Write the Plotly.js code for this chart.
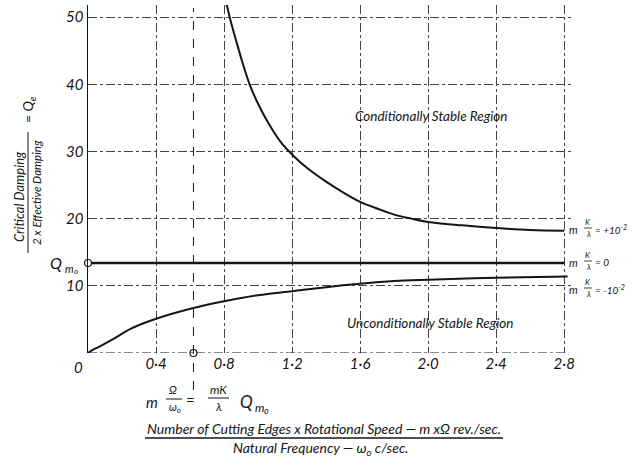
<!DOCTYPE html>
<html><head><meta charset="utf-8">
<script src="https://cdn.plot.ly/plotly-3.0.1.min.js"></script>
<style>html,body{margin:0;padding:0;background:#fff}#chart{width:632px;height:460px}</style>
</head><body><div id="chart"></div>
<script>
// ---- data ----
const xTickVals = [0.4, 0.8, 1.2, 1.6, 2.0, 2.4, 2.8];
const xTickText = ['0·4', '0·8', '1·2', '1·6', '2·0', '2·4', '2·8'];
const yTickVals = [10, 20, 30, 40, 50];
const yTickText = ['10', '20', '30', '40', '50'];

// m K/lambda = +10^-2 (conditionally stable boundary)
const upperX = [0.81, 0.84, 0.87, 0.91, 0.95, 1.0, 1.05, 1.13, 1.21, 1.3, 1.4, 1.5, 1.6, 1.7, 1.8, 1.9, 2.0, 2.2, 2.4, 2.6, 2.8];
const upperY = [52.5, 49.3, 46.6, 43.1, 40.0, 37.1, 34.7, 31.5, 29.3, 27.3, 25.5, 23.9, 22.5, 21.5, 20.6, 20.0, 19.5, 19.0, 18.6, 18.3, 18.2];
// m K/lambda = -10^-2
const lowerX = [0, 0.03, 0.07, 0.15, 0.25, 0.4, 0.62, 0.8, 1.0, 1.2, 1.4, 1.6, 1.8, 2.0, 2.4, 2.82];
const lowerY = [0, 0.5, 1.0, 2.1, 3.6, 5.1, 6.7, 7.7, 8.6, 9.2, 9.8, 10.3, 10.7, 10.9, 11.2, 11.4];
// m K/lambda = 0
const qm0 = 13.4;
const zeroLineX = [0, 2.8];
const omegaCrit = 0.62;
const xEnd = 2.8;

const regionLabels = ['Conditionally Stable Region', 'Unconditionally Stable Region'];
const curveLabelTexts = ['= +10<sup>-2</sup>', '= 0', '= -10<sup>-2</sup>'];

// ---- layout helpers (pixel -> paper) ----
const L = 88, R = 571, T = 5, B = 353;
const W = R - L, H = B - T;
const px = p => (p - L) / W;
const py = p => (B - p) / H;
const FONT = 'Lato, "Open Sans", sans-serif';
const INK = '#151515';

function ann(text, x, y, size, extra) {
  return Object.assign({
    text: text, xref: 'paper', yref: 'paper', x: px(x), y: py(y),
    showarrow: false, xanchor: 'center', yanchor: 'middle',
    font: {family: FONT, size: size, color: INK, style: 'italic'}
  }, extra || {});
}
function bar(x0, y0, x1, y1, w) {
  return {type: 'line', xref: 'paper', yref: 'paper', x0: px(x0), x1: px(x1), y0: py(y0), y1: py(y1),
          line: {color: INK, width: w || 1}};
}

const traces = [
  {x: upperX, y: upperY, mode: 'lines', line: {color: INK, width: 2, shape: 'spline'}, hoverinfo: 'skip'},
  {x: lowerX, y: lowerY, mode: 'lines', line: {color: INK, width: 2, shape: 'spline'}, hoverinfo: 'skip'},
  {x: zeroLineX, y: zeroLineX.map(() => qm0), mode: 'lines', line: {color: INK, width: 2.5}, hoverinfo: 'skip'},
  {x: [0, omegaCrit], y: [qm0, 0], mode: 'markers', cliponaxis: false,
   marker: {symbol: 'circle', size: 7, color: '#fff', line: {color: INK, width: 1.2}}, hoverinfo: 'skip'}
];

const annotations = [
  ann('0', 78, 367, 15),
  // Q_mo label on y-axis
  ann('Q', 56, 262, 16),
  ann('m', 69, 268, 11),
  ann('o', 76, 271, 8),
  // region labels
  ann(regionLabels[0], 431, 116, 13.5),
  ann(regionLabels[1], 430, 323, 13.5),
  // formula under axis
  ann('m', 152, 402, 15),
  ann('Ω', 173, 390, 11),
  ann('ω<sub>o</sub>', 175, 407, 11),
  ann('=', 190, 400, 15),
  ann('mK', 218, 390, 12),
  ann('λ', 218, 406, 12),
  ann('Q', 246, 401, 17),
  ann('m', 259, 407, 12),
  ann('o', 266, 410, 9),
  // x-axis title (fraction)
  ann('Number of Cutting Edges x Rotational Speed — m xΩ rev./sec.', 324, 428, 14),
  ann('Natural Frequency — ω<sub>o</sub> c/sec.', 321, 448, 14),
  // y-axis title (fraction, rotated)
  ann('Critical Damping', 19, 197, 13, {textangle: -90}),
  ann('2 x Effective Damping', 36, 193, 11.5, {textangle: -90}),
  ann('= Q<sub>e</sub>', 28, 110, 14, {textangle: -90})
];

const shapes = [
  // dashed base axis
  {type: 'line', xref: 'x', yref: 'y', x0: 0, x1: xEnd, y0: 0, y1: 0,
   line: {color: INK, width: 1, dash: 'dashdot'}},
  // critical frequency guide line extending below the axis
  {type: 'line', xref: 'x', yref: 'paper', x0: omegaCrit, x1: omegaCrit, y0: py(390), y1: py(8),
   line: {color: INK, width: 1, dash: 'dash'}},
  bar(166, 399, 182, 399, 1),
  bar(208, 398, 229, 398, 1),
  bar(145, 438, 503, 438, 1.3),
  bar(28, 132, 28, 253, 1)
];

// right-hand curve labels: m K/λ = ...
const labelCenters = [228, 261, 288];
labelCenters.forEach((c, i) => {
  annotations.push(ann('m', 573, c + 1, 11));
  annotations.push(ann('K', 588, c - 6, 8));
  annotations.push(ann('λ', 588, c + 6, 8));
  annotations.push(ann(curveLabelTexts[i], 593, c + 1, 10, {xanchor: 'left'}));
  shapes.push(bar(584, c, 592, c, 0.8));
});

const layout = {
  width: 632, height: 460,
  margin: {l: L, r: 632 - R, t: T, b: 460 - B, pad: 0},
  paper_bgcolor: '#fff', plot_bgcolor: '#fff',
  showlegend: false,
  font: {family: FONT, color: INK},
  xaxis: {
    range: [0, 2.84], tickvals: xTickVals, ticktext: xTickText,
    showgrid: true, gridcolor: '#444', gridwidth: 1, griddash: 'dashdot',
    showline: false, zeroline: false, ticks: '',
    tickfont: {family: FONT, size: 15, color: INK, style: 'italic'}
  },
  yaxis: {
    range: [0, 51.8], tickvals: yTickVals, ticktext: yTickText,
    showgrid: true, gridcolor: '#444', gridwidth: 1, griddash: 'dashdot',
    showline: true, linecolor: INK, linewidth: 1.5, zeroline: false, ticks: '',
    tickfont: {family: FONT, size: 15, color: INK, style: 'italic'}
  },
  annotations: annotations,
  shapes: shapes
};

Plotly.newPlot('chart', traces, layout, {staticPlot: true, displayModeBar: false});
</script>
</body></html>
